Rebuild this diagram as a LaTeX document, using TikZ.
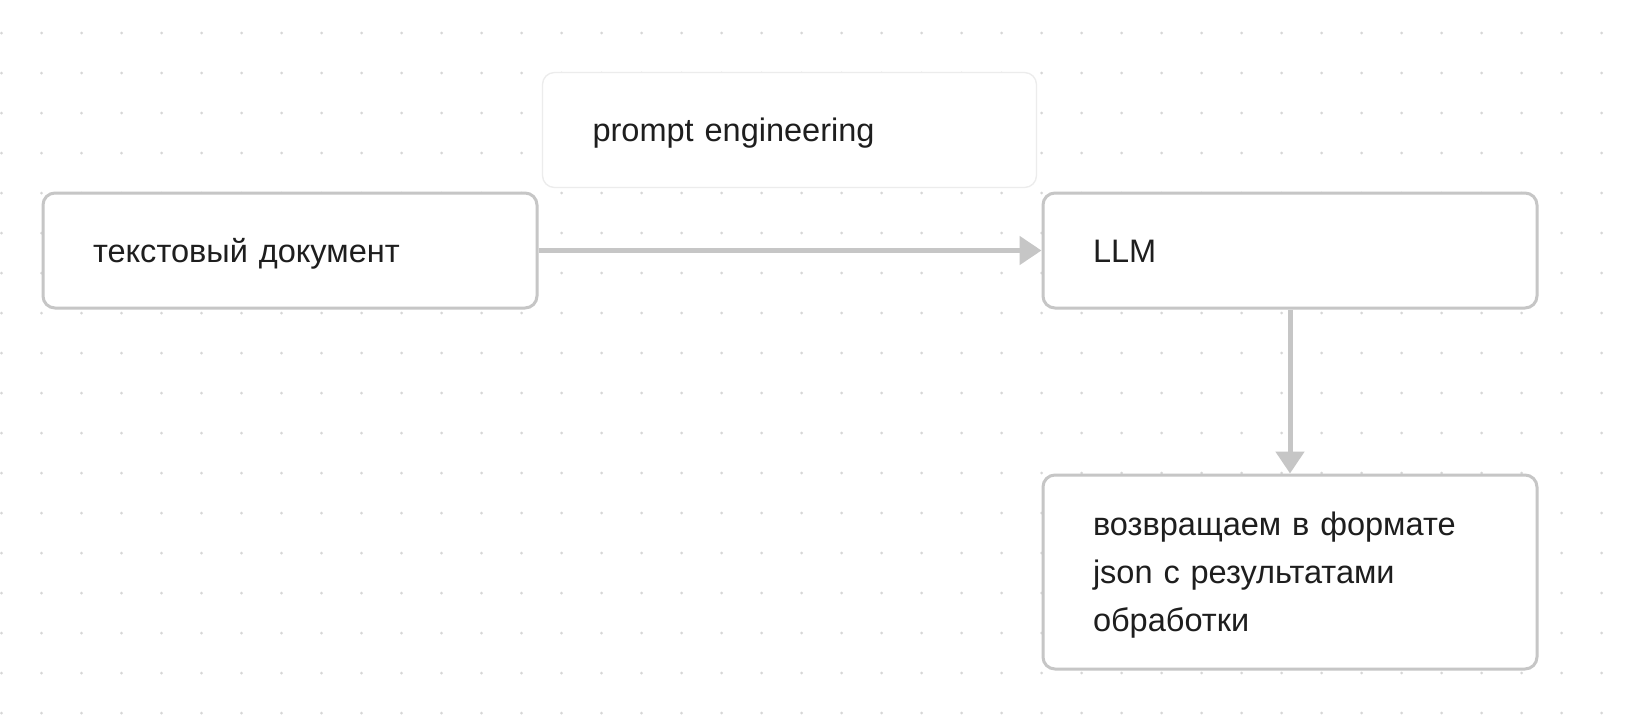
\documentclass[tikz,border=0pt]{standalone}
\usepackage{fontspec}
\setmainfont{Liberation Sans}
\usetikzlibrary{arrows.meta}

\definecolor{boxgray}{RGB}{198,198,198}
\definecolor{lightgray}{RGB}{236,236,236}
\definecolor{dotgray}{RGB}{214,214,214}
\definecolor{inkblack}{RGB}{30,30,30}

\tikzset{
	block/.style={draw=boxgray, line width=2.25pt, fill=white, rounded corners=9pt,
		text width=295.5pt, inner xsep=37.5pt, inner ysep=0pt, align=left,
		minimum height=86.25pt, text=inkblack, text height=17.4pt, text depth=0pt,
		font=\fontsize{24.4pt}{36pt}\selectfont},
	note/.style={block, draw=lightgray, line width=1pt},
	flow/.style={draw=boxgray, line width=3.75pt,
		-{Triangle[length=16.5pt, width=21pt]}}
}

\begin{document}
\begin{tikzpicture}[x=0.75pt,y=0.75pt,yscale=-1,xscale=1]
	% canvas
	\useasboundingbox [fill=white] (0,0) rectangle (1636,728);

	% dotted grid
	\foreach \gx in {0,...,40} {
		\foreach \gy in {0,...,17} {
			\fill [dotgray] (1.5+40*\gx,33+40*\gy) circle (1.5);
		}
	}

	% blocks
	\node [note] (prompt) at (789.5,130) {prompt engineering};
	\node [block] (doc) at (290,250.5) {текстовый документ};
	\node [block] (llm) at (1290,250.5) {LLM};
	\node [block, minimum height=145.5pt, text height=17pt, text depth=71.8pt] (result) at (1290,572)
		{возвращаем в формате\\json с результатами\\обработки};

	% connectors
	\draw [flow] (doc.east) -- (llm.west);
	\draw [flow] (llm.south) -- (result.north);

\end{tikzpicture}
\end{document}
